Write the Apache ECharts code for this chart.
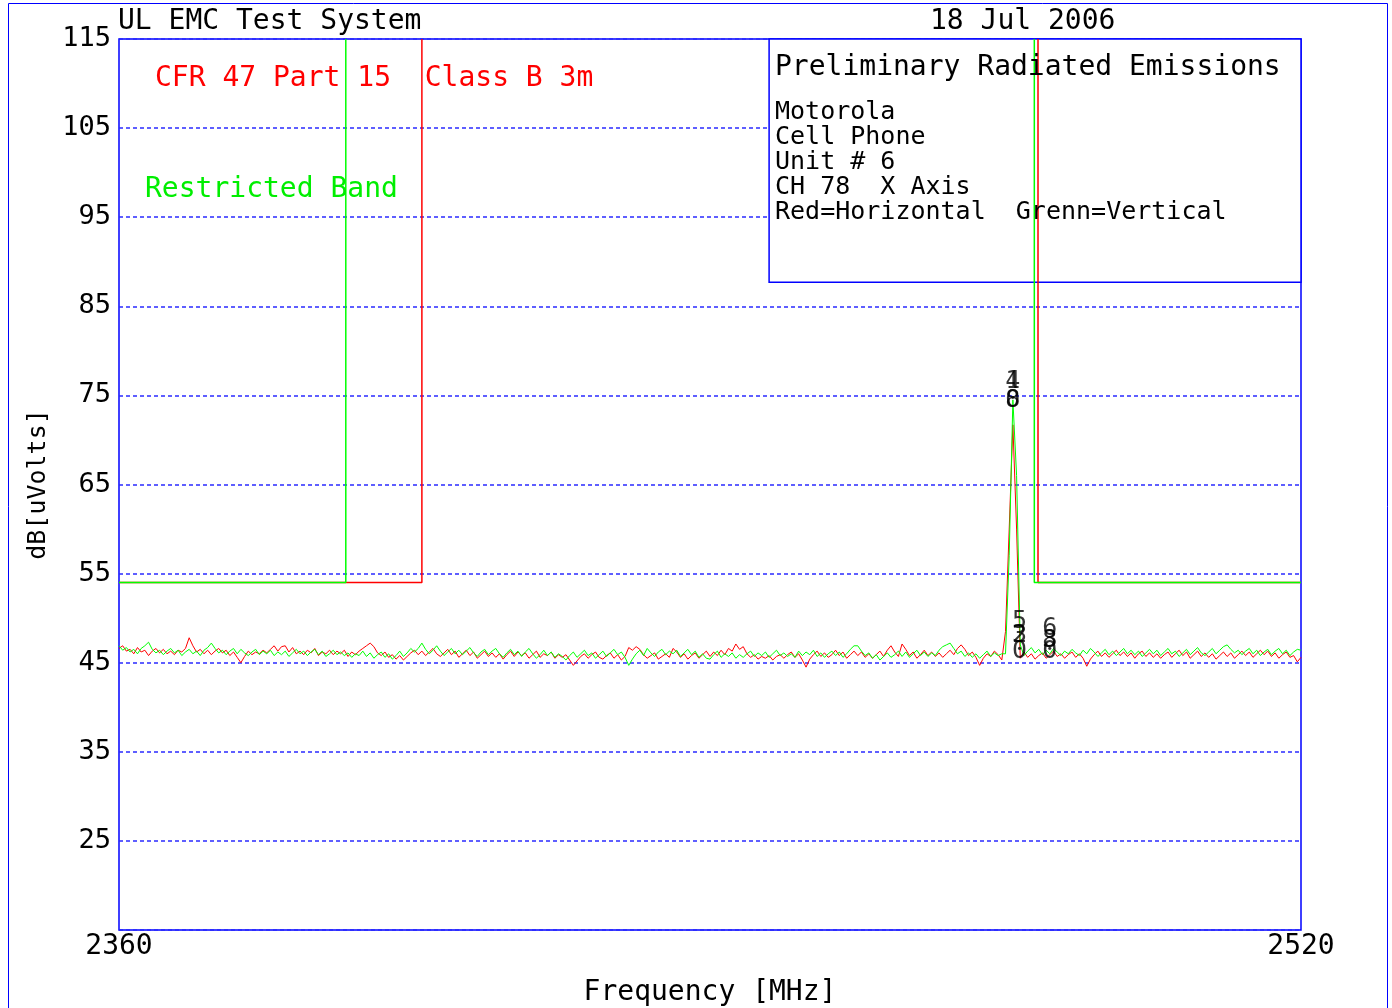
<!DOCTYPE html>
<html>
<head>
<meta charset="utf-8">
<script src="https://cdn.jsdelivr.net/npm/echarts@6/dist/echarts.min.js"></script>
<style>
html,body{margin:0;padding:0;background:#fff;}
#chart{width:1392px;height:1008px;}
</style>
</head>
<body>
<div id="chart"></div>
<script>
// ---- data ----
var freqStart = 2360;
var freqStep = 0.5;
var xTicks = [2360, 2520];
var yTicks = [115, 105, 95, 85, 75, 65, 55, 45, 35, 25];

// Red = Horizontal (dBuV), one row per 10 MHz
var redLevels = [
46.6,46.9,46.3,46.5,46.0,46.7,46.2,46.4,45.8,46.3,46.6,46.1,46.5,46.0,46.3,45.9,46.4,46.2,46.6,47.8,
46.9,46.2,46.5,46.0,46.4,45.9,46.3,46.6,46.1,46.4,45.8,46.2,45.6,45.0,45.7,46.3,45.9,46.2,46.0,46.4,
46.1,46.5,46.9,46.3,46.8,46.9,46.2,46.7,46.0,46.3,45.9,46.4,46.1,46.6,45.8,46.2,46.0,46.4,45.9,46.3,
46.0,46.4,45.7,46.2,45.9,46.3,46.6,46.9,47.2,46.8,46.1,45.8,46.2,45.6,45.9,45.4,45.8,45.3,45.7,46.1,
46.4,45.9,46.3,45.8,46.2,46.6,46.0,45.7,46.1,46.5,45.9,46.3,45.6,46.0,46.4,45.8,46.2,45.5,45.9,46.3,
45.7,46.1,45.6,46.0,45.4,45.9,46.3,45.7,46.2,45.8,46.1,45.5,45.9,46.3,45.6,46.0,45.8,46.2,45.5,45.9,
45.6,45.9,45.3,44.7,45.2,45.7,46.0,45.5,45.9,46.2,45.6,45.4,45.8,46.1,45.5,45.9,45.3,45.7,46.7,46.4,
46.8,46.5,45.9,45.5,45.8,46.1,45.4,45.7,46.0,45.6,46.6,46.2,45.6,46.0,45.4,45.8,46.1,45.5,45.9,46.3,
45.7,46.2,45.8,46.4,45.9,46.6,46.3,47.1,46.5,46.8,46.0,45.6,45.9,45.4,45.7,45.5,45.8,45.3,45.7,45.9,
45.5,45.9,46.2,45.6,46.0,45.3,44.5,45.4,45.9,46.3,45.7,46.1,45.6,45.9,46.4,45.8,46.2,45.5,45.9,46.3,
45.8,46.2,45.6,46.0,45.5,45.9,46.3,45.7,46.4,46.9,46.2,45.7,47.1,46.5,45.8,46.2,45.5,45.9,46.4,45.8,
46.2,45.7,46.1,45.6,46.0,46.4,45.9,46.6,47.0,46.5,45.8,46.2,45.6,44.7,45.5,46.0,45.7,46.3,45.9,45.3,
48.5,60.0,71.7,60.0,45.5,46.2,45.6,46.0,45.4,45.8,46.1,45.5,45.9,46.3,45.7,46.0,45.5,45.9,46.2,45.6,
46.0,45.5,44.6,45.4,45.9,46.3,45.7,46.1,45.6,46.0,46.4,45.8,46.2,45.7,46.1,45.5,46.0,46.3,45.7,46.1,
45.6,46.0,45.5,45.9,46.2,45.6,46.0,46.4,45.8,46.2,45.5,45.9,46.3,45.7,46.1,45.6,46.0,45.4,45.8,46.2,
45.7,46.1,45.5,45.9,46.3,45.8,46.2,45.6,46.0,46.4,45.9,46.3,45.7,46.1,45.5,45.9,46.2,45.6,45.8,45.1,
45.6
];

// Green = Vertical (dBuV)
var greenLevels = [
46.9,46.4,46.7,46.2,46.5,46.0,46.6,46.9,47.3,46.5,46.1,46.4,45.9,46.3,46.6,46.1,46.4,45.8,46.2,46.5,
46.0,46.3,45.8,46.4,46.7,47.2,46.6,46.1,46.4,45.9,46.3,46.6,46.0,46.5,46.1,45.8,46.2,46.5,45.9,46.3,
46.0,46.4,45.8,46.2,45.9,46.3,45.7,46.1,46.5,46.0,46.3,45.8,46.2,46.5,45.9,46.3,45.7,46.0,46.4,45.9,
46.2,45.8,46.1,45.6,46.0,45.8,46.3,45.7,46.1,45.5,45.9,46.2,45.6,46.0,45.4,45.8,46.3,45.7,46.1,46.6,
46.2,46.6,47.2,46.5,46.0,46.4,46.9,46.3,45.8,46.2,46.6,46.0,46.4,45.9,46.3,46.7,46.1,45.7,46.2,46.5,
45.9,46.3,46.6,46.0,45.6,46.1,46.5,45.9,46.3,45.7,46.2,46.6,46.0,45.5,45.9,46.4,45.8,46.2,45.6,46.0,
45.7,45.3,45.8,46.2,45.6,46.0,46.4,45.8,46.1,45.5,45.9,46.3,45.7,46.1,46.5,45.9,46.2,45.6,44.7,45.4,
46.0,46.4,45.8,46.6,46.1,45.7,46.2,46.5,45.9,46.3,46.0,46.4,45.7,46.1,46.5,45.9,46.3,45.6,46.0,45.5,
45.4,45.9,46.3,45.6,46.0,45.7,46.1,45.5,45.9,45.6,46.0,46.3,45.7,46.1,45.8,46.2,45.6,46.0,46.4,45.8,
46.1,45.7,46.0,45.6,46.3,45.8,46.2,45.9,46.4,45.7,46.1,45.6,46.0,46.3,45.8,46.2,45.6,46.0,46.5,46.9,
46.9,46.3,45.8,46.1,45.5,45.9,45.3,45.7,46.1,45.6,45.9,46.3,45.7,46.2,45.6,46.0,46.4,45.8,46.2,45.7,
46.1,45.8,46.4,46.8,47.0,47.2,46.6,46.0,46.3,45.7,46.1,45.6,46.0,45.5,45.9,46.3,45.7,46.1,45.8,46.0,
46.0,57.0,74.5,66.0,47.0,45.8,46.3,46.7,46.1,46.5,45.9,46.4,46.0,46.6,46.2,45.8,46.3,46.0,46.5,46.1,
45.8,46.4,46.0,46.6,46.2,45.7,46.1,46.5,45.9,46.3,45.8,46.2,46.6,46.0,46.4,45.9,46.3,45.7,46.1,46.5,
46.0,46.4,45.8,46.2,46.6,46.0,46.3,45.7,46.1,46.5,45.9,46.3,46.7,46.1,45.8,46.2,46.6,46.0,46.4,46.8,
47.0,46.5,46.1,46.4,45.9,46.3,46.6,46.0,46.4,45.8,46.2,46.5,45.9,46.3,46.6,46.0,46.4,45.8,46.2,46.5,
46.4
];

// Limit lines [MHz, dBuV]
var redLimitLow = [[2360, 54], [2401.0, 54], [2401.0, 115]];
var redLimitHigh = [[2484.4, 115], [2484.4, 54], [2520, 54]];
var greenLimitLow = [[2360, 54], [2390.7, 54], [2390.7, 115]];
var greenLimitHigh = [[2483.9, 115], [2483.9, 54], [2520, 54]];

// Marker labels [MHz, dBuV, text]
var markerFreqs = [2481.0, 2481.0, 2481.0, 2481.0, 2481.9, 2481.9, 2481.9, 2481.9, 2486.0, 2486.0, 2486.0, 2486.0];
var markerLevels = [76.6, 76.6, 74.4, 74.4, 49.6, 48.0, 48.0, 46.3, 48.8, 47.5, 47.5, 46.3];
var markerTexts = ['4', '1', '0', '8', '5', '3', '2', '0', '6', '8', '3', '0'];

// ---- build ----
function toPairs(levels) {
  var out = [];
  for (var i = 0; i < levels.length; i++) out.push([freqStart + i * freqStep, levels[i]]);
  return out;
}
var markerData = markerFreqs.map(function (f, i) { return [f, markerLevels[i], markerTexts[i]]; });

var MONO = '"DejaVu Sans Mono", "Liberation Mono", monospace';
var chart = echarts.init(document.getElementById('chart'), null, { renderer: 'canvas' });

function txt(text, x, y, size, color) {
  return {
    type: 'text', x: x, y: y, z: 100, silent: true,
    style: { text: text, font: size + 'px ' + MONO, fill: color, align: 'left', verticalAlign: 'middle', textAlign: 'left', textVerticalAlign: 'middle' }
  };
}

var option = {
  animation: false,
  backgroundColor: '#ffffff',
  grid: { left: 119, right: 91, top: 39, bottom: 78, containLabel: false, outerBoundsMode: 'none',
    show: true, borderColor: '#0000ff', borderWidth: 1.5, backgroundColor: 'transparent' },
  xAxis: {
    type: 'value', min: 2360, max: 2520, interval: 160,
    name: 'Frequency [MHz]', nameLocation: 'middle', nameGap: 49,
    nameTextStyle: { fontFamily: MONO, fontSize: 28, color: '#000' },
    axisLine: { show: false }, axisTick: { show: false }, splitLine: { show: false },
    axisLabel: { margin: 3, fontFamily: MONO, fontSize: 28, color: '#000',
      formatter: function (v) { return xTicks.indexOf(v) >= 0 ? String(v) : ''; } }
  },
  yAxis: {
    type: 'value', min: 15, max: 115, interval: 10,
    name: 'dB[uVolts]', nameLocation: 'middle', nameGap: 63,
    nameTextStyle: { fontFamily: MONO, fontSize: 25, color: '#000' },
    axisLine: { show: false }, axisTick: { show: false },
    splitLine: { show: true, lineStyle: { color: '#2a2aff', width: 1.5, type: [4, 3] } },
    axisLabel: { margin: 8, fontFamily: MONO, fontSize: 27, color: '#000', padding: [5, 0, 0, 0],
      formatter: function (v) { return yTicks.indexOf(v) >= 0 ? String(v) : ''; } }
  },
  graphic: [
    { type: 'rect', z: 100, silent: true, shape: { x: 8.5, y: 3.5, width: 1379, height: 1020 }, style: { fill: 'none', stroke: '#0000ff', lineWidth: 1 } },
    txt('UL EMC Test System', 118, 22, 28, '#000'),
    txt('18 Jul 2006', 930, 22, 28, '#000'),
    txt('CFR 47 Part 15  Class B 3m', 155, 79, 28, '#ff0000'),
    txt('Restricted Band', 145, 190, 28, '#00ee00'),
    txt('Preliminary Radiated Emissions', 775, 68, 28, '#000'),
    txt('Motorola', 775, 112, 25, '#000'),
    txt('Cell Phone', 775, 137, 25, '#000'),
    txt('Unit # 6', 775, 162, 25, '#000'),
    txt('CH 78  X Axis', 775, 187, 25, '#000'),
    txt('Red=Horizontal  Grenn=Vertical', 775, 212, 25, '#000')
  ],
  series: [
    { type: 'line', name: 'box', data: [], z: 1, silent: true,
      markArea: { silent: true, itemStyle: { color: '#ffffff', borderColor: '#0000ff', borderWidth: 1.5, opacity: 1 },
        label: { show: false },
        data: [[{ coord: [2448.0, 115] }, { coord: [2520, 87.7] }]] } },
    { type: 'line', name: 'redLimitLow', data: redLimitLow, z: 3, symbol: 'none', silent: true, lineStyle: { color: '#ff0000', width: 1.5 } },
    { type: 'line', name: 'redLimitHigh', data: redLimitHigh, z: 3, symbol: 'none', silent: true, lineStyle: { color: '#ff0000', width: 1.5 } },
    { type: 'line', name: 'greenLimitLow', data: greenLimitLow, z: 4, symbol: 'none', silent: true, lineStyle: { color: '#00ff00', width: 1.5 } },
    { type: 'line', name: 'greenLimitHigh', data: greenLimitHigh, z: 4, symbol: 'none', silent: true, lineStyle: { color: '#00ff00', width: 1.5 } },
    { type: 'line', name: 'Horizontal', data: toPairs(redLevels), z: 5, symbol: 'none', silent: true, lineStyle: { color: '#ff0000', width: 1 } },
    { type: 'line', name: 'Vertical', data: toPairs(greenLevels), z: 6, symbol: 'none', silent: true, lineStyle: { color: '#00ff00', width: 1 } },
    { type: 'scatter', name: 'markers', data: markerData, z: 10, symbolSize: 0, silent: true,
      label: { show: true, position: 'inside', fontFamily: MONO, fontSize: 25, color: '#000',
        formatter: function (p) { return p.value[2]; } } }
  ]
};
chart.setOption(option);
</script>
</body>
</html>
